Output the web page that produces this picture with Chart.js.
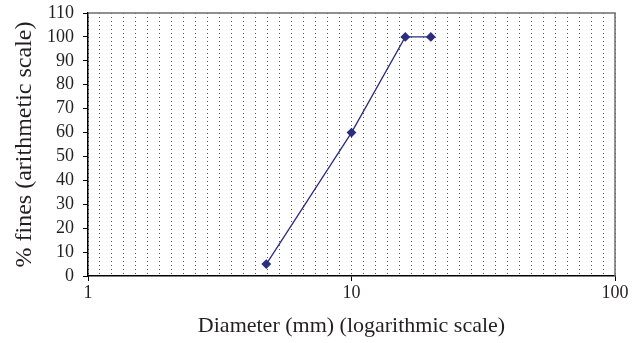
<!DOCTYPE html>
<html>
<head>
<meta charset="utf-8">
<script src="https://cdn.jsdelivr.net/npm/chart.js@4/dist/chart.umd.min.js"></script>
<style>
  html, body { margin: 0; padding: 0; background: #fff; }
  #wrap { width: 641px; height: 343px; }
</style>
</head>
<body>
<div id="wrap"><canvas id="chart"></canvas></div>
<script>
// sieve diameters (mm) and % passing
const diameters = [4.75, 10, 16, 20];
const fines     = [5, 60, 100, 100];
const xTicks    = [1, 10, 100];
const yMax      = 110;
const yStep     = 10;
const gridCount = 44; // dense dotted background lines

const serif = '"Liberation Serif", "DejaVu Serif", serif';
const ink   = '#231f20';
const navy  = '#2b2e7f';

// box round the plot area (top and right edges are grey)
const frame = {
  id: 'frame',
  afterDraw(chart) {
    const { ctx, chartArea: a } = chart;
    ctx.save();
    ctx.strokeStyle = '#6e6e6e';
    ctx.lineWidth = 1.5;
    ctx.beginPath();
    ctx.moveTo(a.left, a.top);
    ctx.lineTo(a.right, a.top);
    ctx.lineTo(a.right, a.bottom);
    ctx.stroke();
    ctx.restore();
  }
};

function noOverflow(s) {
  s.paddingTop = 0;
  s.paddingBottom = 0;
  s.paddingLeft = 0;
  s.paddingRight = 0;
}

new Chart(document.getElementById('chart'), {
  type: 'line',
  data: {
    datasets: [{
      data: diameters.map((d, i) => ({ x: d, y: fines[i] })),
      borderColor: navy,
      backgroundColor: navy,
      borderWidth: 1.3,
      pointStyle: 'rectRot',
      pointRadius: 4,
      tension: 0
    }]
  },
  options: {
    responsive: true,
    maintainAspectRatio: false,
    animation: false,
    layout: { padding: { top: 13, right: 26, left: 0, bottom: 0 } },
    plugins: { legend: { display: false }, tooltip: { enabled: false } },
    scales: {
      x: {
        type: 'logarithmic',
        min: 1, max: 100,
        afterBuildTicks: s => { s.ticks = xTicks.map(v => ({ value: v })); },
        afterFit: s => { s.height = 67; noOverflow(s); },
        ticks: {
          color: ink,
          font: { family: serif, size: 18 },
          padding: 1,
          maxRotation: 0,
          autoSkip: false,
          callback: v => String(v)
        },
        grid: { drawOnChartArea: false, tickLength: 5, color: '#000' },
        border: { color: '#000', width: 1.5 },
        title: {
          display: true,
          text: 'Diameter (mm) (logarithmic scale)',
          color: ink,
          font: { family: serif, size: 22 },
          padding: { top: 0, bottom: 4 }
        }
      },
      xg: {
        type: 'linear',
        position: 'top',
        min: 0, max: gridCount,
        afterFit: s => { s.height = 0; noOverflow(s); },
        ticks: { display: false, stepSize: 1 },
        grid: {
          drawTicks: false,
          color: '#555',
          lineWidth: 1
        },
        border: { display: false, dash: [1, 3] }
      },
      y: {
        min: 0, max: yMax,
        afterFit: s => { s.width = 88; noOverflow(s); },
        ticks: {
          stepSize: yStep,
          autoSkip: false,
          color: ink,
          font: { family: serif, size: 18 },
          padding: 9
        },
        grid: { drawOnChartArea: false, tickLength: 5, color: '#000' },
        border: { color: '#000', width: 1.5 },
        title: {
          display: true,
          text: '% fines (arithmetic scale)',
          color: ink,
          font: { family: serif, size: 24 },
          padding: { top: 10, bottom: 0 }
        }
      }
    }
  },
  plugins: [frame]
});
</script>
</body>
</html>
